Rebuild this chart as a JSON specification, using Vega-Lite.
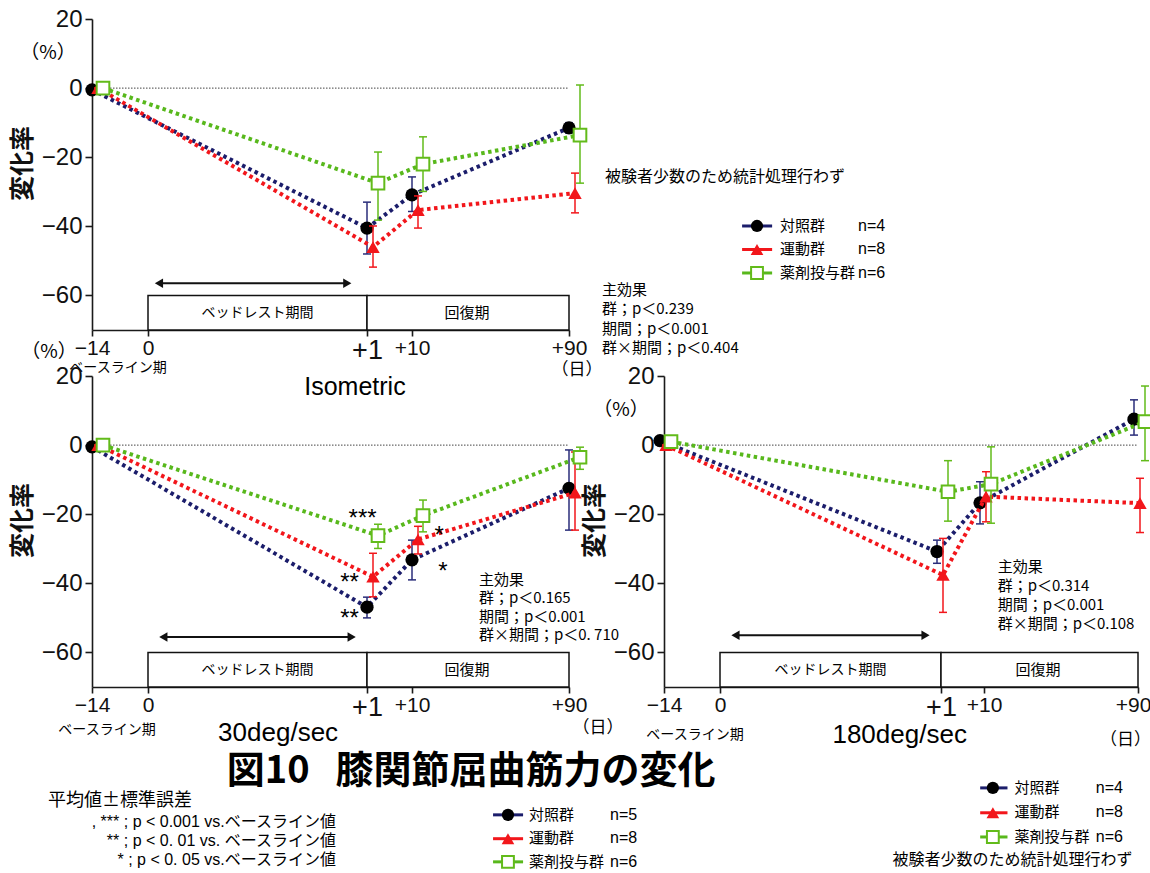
{
  "$schema": "https://vega.github.io/schema/vega-lite/v6.json",
  "background": "white",
  "padding": {"left": 10, "top": 7, "right": 0, "bottom": 0},
  "columns": 2,
  "bounds": "flush",
  "spacing": {"row": 46, "column": 95},
  "config": {
    "view": {"stroke": null},
    "font": "Liberation Sans",
    "axis": {"grid": false, "domainColor": "#1a1a1a", "domainWidth": 1.6, "tickColor": "#1a1a1a", "tickWidth": 1.6, "labelColor": "#111111", "labelFont": "Liberation Sans", "titleColor": "#111111"}
  },
  "datasets": {
    "strength": [
      {"panel": "iso", "group": "対照群", "day": -14, "mean": -0.5, "lo": -0.5, "hi": -0.5},
      {"panel": "iso", "group": "対照群", "day": 1, "mean": -40.5, "lo": -48.0, "hi": -33.0},
      {"panel": "iso", "group": "対照群", "day": 10, "mean": -30.9, "lo": -35.7, "hi": -25.7},
      {"panel": "iso", "group": "対照群", "day": 90, "mean": -11.5, "lo": -13.0, "hi": -10.0},
      {"panel": "iso", "group": "運動群", "day": -14, "mean": 0, "lo": 0, "hi": 0},
      {"panel": "iso", "group": "運動群", "day": 1, "mean": -46.0, "lo": -51.8, "hi": -39.9},
      {"panel": "iso", "group": "運動群", "day": 10, "mean": -35.3, "lo": -40.5, "hi": -31.2},
      {"panel": "iso", "group": "運動群", "day": 90, "mean": -30.4, "lo": -36.1, "hi": -24.6},
      {"panel": "iso", "group": "薬剤投与群", "day": -14, "mean": 0, "lo": 0, "hi": 0},
      {"panel": "iso", "group": "薬剤投与群", "day": 1, "mean": -27.5, "lo": -38.2, "hi": -18.5},
      {"panel": "iso", "group": "薬剤投与群", "day": 10, "mean": -22.0, "lo": -29.9, "hi": -14.1},
      {"panel": "iso", "group": "薬剤投与群", "day": 90, "mean": -13.6, "lo": -27.5, "hi": 0.9},
      {"panel": "30", "group": "対照群", "day": -14, "mean": -0.5, "lo": -0.5, "hi": -0.5},
      {"panel": "30", "group": "対照群", "day": 1, "mean": -46.9, "lo": -50.0, "hi": -44.0},
      {"panel": "30", "group": "対照群", "day": 10, "mean": -33.2, "lo": -39.0, "hi": -27.5},
      {"panel": "30", "group": "対照群", "day": 90, "mean": -12.5, "lo": -24.6, "hi": -1.4},
      {"panel": "30", "group": "運動群", "day": -14, "mean": 0, "lo": 0, "hi": 0},
      {"panel": "30", "group": "運動群", "day": 1, "mean": -38.1, "lo": -43.9, "hi": -31.3},
      {"panel": "30", "group": "運動群", "day": 10, "mean": -27.3, "lo": -31.5, "hi": -23.5},
      {"panel": "30", "group": "運動群", "day": 90, "mean": -13.8, "lo": -24.6, "hi": -2.0},
      {"panel": "30", "group": "薬剤投与群", "day": -14, "mean": 0, "lo": 0, "hi": 0},
      {"panel": "30", "group": "薬剤投与群", "day": 1, "mean": -26.2, "lo": -29.9, "hi": -22.9},
      {"panel": "30", "group": "薬剤投与群", "day": 10, "mean": -20.4, "lo": -25.1, "hi": -15.9},
      {"panel": "30", "group": "薬剤投与群", "day": 90, "mean": -3.5, "lo": -7.0, "hi": -0.6},
      {"panel": "180", "group": "対照群", "day": -14, "mean": 1.3, "lo": 1.3, "hi": 1.3},
      {"panel": "180", "group": "対照群", "day": 1, "mean": -30.8, "lo": -34.2, "hi": -27.5},
      {"panel": "180", "group": "対照群", "day": 10, "mean": -16.7, "lo": -22.8, "hi": -10.6},
      {"panel": "180", "group": "対照群", "day": 90, "mean": 7.5, "lo": 2.9, "hi": 13.1},
      {"panel": "180", "group": "運動群", "day": -14, "mean": 0, "lo": 0, "hi": 0},
      {"panel": "180", "group": "運動群", "day": 1, "mean": -37.6, "lo": -48.4, "hi": -27.0},
      {"panel": "180", "group": "運動群", "day": 10, "mean": -14.9, "lo": -22.2, "hi": -7.7},
      {"panel": "180", "group": "運動群", "day": 90, "mean": -16.8, "lo": -25.3, "hi": -9.6},
      {"panel": "180", "group": "薬剤投与群", "day": -14, "mean": 1.0, "lo": 1.0, "hi": 1.0},
      {"panel": "180", "group": "薬剤投与群", "day": 1, "mean": -13.5, "lo": -22.0, "hi": -4.5},
      {"panel": "180", "group": "薬剤投与群", "day": 10, "mean": -11.3, "lo": -22.6, "hi": -0.5},
      {"panel": "180", "group": "薬剤投与群", "day": 90, "mean": 6.8, "lo": -4.5, "hi": 17.1}
    ],
    "periods": [
      {"period": "ベッドレスト期間", "start": 0, "end": 1},
      {"period": "回復期", "start": 1, "end": 90}
    ]
  },
  "concat": [
    {
      "width": 477,
      "height": 311,
      "data": {"values": [{}]},
      "layer": [
        {"mark": {"type": "rule", "color": "#444444", "strokeWidth": 1, "strokeDash": [1.5, 1.5]},
         "encoding": {
           "x": {"datum": -14, "type": "quantitative",
                 "scale": {"domain": [-14, 0, 1, 10, 90], "range": [0, 56, 275, 320, 477], "nice": false, "zero": false},
                 "axis": {"values": [-14, 0, 1, 10, 90], "labelExpr": "datum.value === 1 ? '+1' : (datum.value > 1 ? '+' + datum.label : datum.label)", "labelFontSize": {"condition": {"test": "datum.value === 1", "value": 27}, "value": 21}, "labelFlush": false, "labelOverlap": false, "labelPadding": 1, "tickSize": 6, "title": null}},
           "x2": {"datum": 90},
           "y": {"datum": 0, "type": "quantitative",
                 "scale": {"domain": [-70, 20], "nice": false, "zero": false},
                 "axis": {"values": [-60, -50, -40, -30, -20, -10, 0, 10, 20], "labelExpr": "datum.value % 20 === 0 ? datum.label : ''", "labelFontSize": 24, "labelPadding": 3, "tickSize": 7, "title": "変化率", "titleFont": "Noto Sans CJK JP", "titleFontSize": 25, "titleFontWeight": "bold", "titlePadding": 6, "titleY": 144}}
         }},
        {"data": {"name": "periods"},
         "mark": {"type": "rect", "fill": "#ffffff", "stroke": "#111111", "strokeWidth": 1.5},
         "encoding": {"x": {"field": "start", "type": "quantitative"}, "x2": {"field": "end"}, "y": {"datum": -60}, "y2": {"datum": -70}}},
        {"mark": {"type": "text", "text": "ベッドレスト期間", "font": "Noto Sans CJK JP", "fontSize": 14, "baseline": "middle"}, "encoding": {"x": {"datum": 0.5}, "y": {"datum": -65}}},
        {"mark": {"type": "text", "text": "回復期", "font": "Noto Sans CJK JP", "fontSize": 15, "baseline": "middle"}, "encoding": {"x": {"datum": 38}, "y": {"datum": -65}}},
        {"mark": {"type": "rule", "color": "#111111", "strokeWidth": 2}, "encoding": {"x": {"datum": 0.05}, "x2": {"datum": 0.91}, "y": {"datum": -56.5}}},
        {"mark": {"type": "point", "shape": "triangle-left", "filled": true, "color": "#111111", "size": 90, "opacity": 1}, "encoding": {"x": {"datum": 0.05}, "y": {"datum": -56.5}}},
        {"mark": {"type": "point", "shape": "triangle-right", "filled": true, "color": "#111111", "size": 90, "opacity": 1}, "encoding": {"x": {"datum": 0.91}, "y": {"datum": -56.5}}},
        {"data": {"name": "strength"},
         "transform": [{"filter": "datum.panel === 'iso' && datum.group === '対照群'"}],
         "layer": [
           {"mark": {"type": "line", "color": "#1b1d6b", "strokeWidth": 4, "strokeDash": [3.5, 3.5]}, "encoding": {"x": {"field": "day", "type": "quantitative"}, "y": {"field": "mean", "type": "quantitative"}}},
           {"mark": {"type": "rule", "color": "#2a2d7a", "strokeWidth": 1.5}, "encoding": {"x": {"field": "day", "type": "quantitative"}, "y": {"field": "lo", "type": "quantitative"}, "y2": {"field": "hi"}}},
           {"transform": [{"fold": ["lo", "hi"], "as": ["end", "v"]}], "mark": {"type": "tick", "orient": "horizontal", "color": "#2a2d7a", "thickness": 1.5, "size": 8, "opacity": 1}, "encoding": {"x": {"field": "day", "type": "quantitative"}, "y": {"field": "v", "type": "quantitative"}}},
           {"mark": {"type": "point", "shape": "circle", "size": 175, "filled": true, "color": "#000000", "opacity": 1}, "encoding": {"x": {"field": "day", "type": "quantitative"}, "y": {"field": "mean", "type": "quantitative"}}}
         ]},
        {"data": {"name": "strength"},
         "transform": [{"filter": "datum.panel === 'iso' && datum.group === '運動群'"}],
         "layer": [
           {"mark": {"type": "line", "color": "#f2161b", "strokeWidth": 4, "strokeDash": [3.5, 3.5], "xOffset": 6}, "encoding": {"x": {"field": "day", "type": "quantitative"}, "y": {"field": "mean", "type": "quantitative"}}},
           {"mark": {"type": "rule", "color": "#f2161b", "strokeWidth": 1.5, "xOffset": 6}, "encoding": {"x": {"field": "day", "type": "quantitative"}, "y": {"field": "lo", "type": "quantitative"}, "y2": {"field": "hi"}}},
           {"transform": [{"fold": ["lo", "hi"], "as": ["end", "v"]}], "mark": {"type": "tick", "orient": "horizontal", "color": "#f2161b", "thickness": 1.5, "size": 8, "opacity": 1, "xOffset": 6}, "encoding": {"x": {"field": "day", "type": "quantitative"}, "y": {"field": "v", "type": "quantitative"}}},
           {"mark": {"type": "point", "shape": "triangle-up", "size": 180, "filled": true, "color": "#f2161b", "opacity": 1, "xOffset": 6}, "encoding": {"x": {"field": "day", "type": "quantitative"}, "y": {"field": "mean", "type": "quantitative"}}}
         ]},
        {"data": {"name": "strength"},
         "transform": [{"filter": "datum.panel === 'iso' && datum.group === '薬剤投与群'"}],
         "layer": [
           {"mark": {"type": "line", "color": "#58b81c", "strokeWidth": 4, "strokeDash": [3.5, 3.5], "xOffset": 11}, "encoding": {"x": {"field": "day", "type": "quantitative"}, "y": {"field": "mean", "type": "quantitative"}}},
           {"mark": {"type": "rule", "color": "#62bb1a", "strokeWidth": 1.5, "xOffset": 11}, "encoding": {"x": {"field": "day", "type": "quantitative"}, "y": {"field": "lo", "type": "quantitative"}, "y2": {"field": "hi"}}},
           {"transform": [{"fold": ["lo", "hi"], "as": ["end", "v"]}], "mark": {"type": "tick", "orient": "horizontal", "color": "#62bb1a", "thickness": 1.5, "size": 8, "opacity": 1, "xOffset": 11}, "encoding": {"x": {"field": "day", "type": "quantitative"}, "y": {"field": "v", "type": "quantitative"}}},
           {"mark": {"type": "point", "shape": "square", "size": 160, "fill": "#ffffff", "stroke": "#62bb1a", "strokeWidth": 2, "opacity": 1, "xOffset": 11}, "encoding": {"x": {"field": "day", "type": "quantitative"}, "y": {"field": "mean", "type": "quantitative"}}}
         ]},
        {"mark": {"type": "rule", "color": "#1b1d6b", "strokeWidth": 3}, "encoding": {"x": {"datum": 178.2}, "x2": {"datum": 193.5}, "y": {"datum": -39.9}}},
        {"mark": {"type": "rule", "color": "#f2161b", "strokeWidth": 3}, "encoding": {"x": {"datum": 178.2}, "x2": {"datum": 193.5}, "y": {"datum": -46.7}}},
        {"mark": {"type": "rule", "color": "#58b81c", "strokeWidth": 3}, "encoding": {"x": {"datum": 178.2}, "x2": {"datum": 193.5}, "y": {"datum": -53.5}}},
        {"mark": {"type": "point", "shape": "circle", "size": 150, "filled": true, "color": "#000000", "opacity": 1}, "encoding": {"x": {"datum": 185.8}, "y": {"datum": -39.9}}},
        {"mark": {"type": "point", "shape": "triangle-up", "size": 160, "filled": true, "color": "#f2161b", "opacity": 1}, "encoding": {"x": {"datum": 185.8}, "y": {"datum": -46.7}}},
        {"mark": {"type": "point", "shape": "square", "size": 140, "fill": "#ffffff", "stroke": "#62bb1a", "strokeWidth": 2, "opacity": 1}, "encoding": {"x": {"datum": 185.8}, "y": {"datum": -53.5}}},
        {"mark": {"type": "text", "text": ["対照群", "運動群", "薬剤投与群"], "lineHeight": 23.5, "font": "Noto Sans CJK JP", "fontSize": 15, "align": "left", "baseline": "middle"}, "encoding": {"x": {"datum": 197.5}, "y": {"datum": -39.9}}},
        {"mark": {"type": "text", "text": ["n=4", "n=8", "n=6"], "lineHeight": 23.5, "font": "Liberation Sans", "fontSize": 16, "align": "left", "baseline": "middle"}, "encoding": {"x": {"datum": 237.3}, "y": {"datum": -39.9}}},
        {"mark": {"type": "text", "text": "被験者少数のため統計処理行わず", "font": "Noto Sans CJK JP", "fontSize": 16, "align": "left", "baseline": "middle"}, "encoding": {"x": {"datum": 108.3}, "y": {"datum": -25.7}}},
        {"mark": {"type": "text", "text": ["主効果", "群；p＜0.239", "期間；p＜0.001", "群×期間；p＜0.404"], "lineHeight": 19.3, "font": "Noto Sans CJK JP", "fontSize": 15, "align": "left", "baseline": "middle"}, "encoding": {"x": {"datum": 106.8}, "y": {"datum": -58.4}}},
        {"mark": {"type": "text", "text": "（%）", "font": "Noto Sans CJK JP", "fontSize": 19, "baseline": "middle"}, "encoding": {"x": {"datum": -25}, "y": {"datum": 10.2}}},
        {"mark": {"type": "text", "text": "ベースライン期", "font": "Noto Sans CJK JP", "fontSize": 14, "baseline": "middle"}, "encoding": {"x": {"datum": -7.5}, "y": {"datum": -80.9}}},
        {"mark": {"type": "text", "text": "（日）", "font": "Noto Sans CJK JP", "fontSize": 17, "baseline": "middle"}, "encoding": {"x": {"datum": 94.1}, "y": {"datum": -81.6}}},
        {"mark": {"type": "text", "text": "Isometric", "font": "Liberation Sans", "fontSize": 25, "baseline": "middle"}, "encoding": {"x": {"datum": 0.945}, "y": {"datum": -86.5}}}
      ]
    },
    {
      "width": 476,
      "height": 311,
      "data": {"values": []},
      "mark": "point"
    },
    {
      "width": 477,
      "height": 311,
      "data": {"values": [{}]},
      "layer": [
        {"mark": {"type": "rule", "color": "#444444", "strokeWidth": 1, "strokeDash": [1.5, 1.5]},
         "encoding": {
           "x": {"datum": -14, "type": "quantitative",
                 "scale": {"domain": [-14, 0, 1, 10, 90], "range": [0, 56, 275, 320, 477], "nice": false, "zero": false},
                 "axis": {"values": [-14, 0, 1, 10, 90], "labelExpr": "datum.value === 1 ? '+1' : (datum.value > 1 ? '+' + datum.label : datum.label)", "labelFontSize": {"condition": {"test": "datum.value === 1", "value": 27}, "value": 21}, "labelFlush": false, "labelOverlap": false, "labelPadding": 1, "tickSize": 6, "title": null}},
           "x2": {"datum": 90},
           "y": {"datum": 0, "type": "quantitative",
                 "scale": {"domain": [-70, 20], "nice": false, "zero": false},
                 "axis": {"values": [-60, -50, -40, -30, -20, -10, 0, 10, 20], "labelExpr": "datum.value % 20 === 0 ? datum.label : ''", "labelFontSize": 24, "labelPadding": 3, "tickSize": 7, "title": "変化率", "titleFont": "Noto Sans CJK JP", "titleFontSize": 25, "titleFontWeight": "bold", "titlePadding": 6, "titleY": 144}}
         }},
        {"data": {"name": "periods"},
         "mark": {"type": "rect", "fill": "#ffffff", "stroke": "#111111", "strokeWidth": 1.5},
         "encoding": {"x": {"field": "start", "type": "quantitative"}, "x2": {"field": "end"}, "y": {"datum": -60}, "y2": {"datum": -70}}},
        {"mark": {"type": "text", "text": "ベッドレスト期間", "font": "Noto Sans CJK JP", "fontSize": 14, "baseline": "middle"}, "encoding": {"x": {"datum": 0.5}, "y": {"datum": -65}}},
        {"mark": {"type": "text", "text": "回復期", "font": "Noto Sans CJK JP", "fontSize": 15, "baseline": "middle"}, "encoding": {"x": {"datum": 38}, "y": {"datum": -65}}},
        {"mark": {"type": "rule", "color": "#111111", "strokeWidth": 2}, "encoding": {"x": {"datum": 0.07}, "x2": {"datum": 0.93}, "y": {"datum": -55.5}}},
        {"mark": {"type": "point", "shape": "triangle-left", "filled": true, "color": "#111111", "size": 90, "opacity": 1}, "encoding": {"x": {"datum": 0.07}, "y": {"datum": -55.5}}},
        {"mark": {"type": "point", "shape": "triangle-right", "filled": true, "color": "#111111", "size": 90, "opacity": 1}, "encoding": {"x": {"datum": 0.93}, "y": {"datum": -55.5}}},
        {"data": {"name": "strength"},
         "transform": [{"filter": "datum.panel === '30' && datum.group === '対照群'"}],
         "layer": [
           {"mark": {"type": "line", "color": "#1b1d6b", "strokeWidth": 4, "strokeDash": [3.5, 3.5]}, "encoding": {"x": {"field": "day", "type": "quantitative"}, "y": {"field": "mean", "type": "quantitative"}}},
           {"mark": {"type": "rule", "color": "#2a2d7a", "strokeWidth": 1.5}, "encoding": {"x": {"field": "day", "type": "quantitative"}, "y": {"field": "lo", "type": "quantitative"}, "y2": {"field": "hi"}}},
           {"transform": [{"fold": ["lo", "hi"], "as": ["end", "v"]}], "mark": {"type": "tick", "orient": "horizontal", "color": "#2a2d7a", "thickness": 1.5, "size": 8, "opacity": 1}, "encoding": {"x": {"field": "day", "type": "quantitative"}, "y": {"field": "v", "type": "quantitative"}}},
           {"mark": {"type": "point", "shape": "circle", "size": 175, "filled": true, "color": "#000000", "opacity": 1}, "encoding": {"x": {"field": "day", "type": "quantitative"}, "y": {"field": "mean", "type": "quantitative"}}}
         ]},
        {"data": {"name": "strength"},
         "transform": [{"filter": "datum.panel === '30' && datum.group === '運動群'"}],
         "layer": [
           {"mark": {"type": "line", "color": "#f2161b", "strokeWidth": 4, "strokeDash": [3.5, 3.5], "xOffset": 6}, "encoding": {"x": {"field": "day", "type": "quantitative"}, "y": {"field": "mean", "type": "quantitative"}}},
           {"mark": {"type": "rule", "color": "#f2161b", "strokeWidth": 1.5, "xOffset": 6}, "encoding": {"x": {"field": "day", "type": "quantitative"}, "y": {"field": "lo", "type": "quantitative"}, "y2": {"field": "hi"}}},
           {"transform": [{"fold": ["lo", "hi"], "as": ["end", "v"]}], "mark": {"type": "tick", "orient": "horizontal", "color": "#f2161b", "thickness": 1.5, "size": 8, "opacity": 1, "xOffset": 6}, "encoding": {"x": {"field": "day", "type": "quantitative"}, "y": {"field": "v", "type": "quantitative"}}},
           {"mark": {"type": "point", "shape": "triangle-up", "size": 180, "filled": true, "color": "#f2161b", "opacity": 1, "xOffset": 6}, "encoding": {"x": {"field": "day", "type": "quantitative"}, "y": {"field": "mean", "type": "quantitative"}}}
         ]},
        {"data": {"name": "strength"},
         "transform": [{"filter": "datum.panel === '30' && datum.group === '薬剤投与群'"}],
         "layer": [
           {"mark": {"type": "line", "color": "#58b81c", "strokeWidth": 4, "strokeDash": [3.5, 3.5], "xOffset": 11}, "encoding": {"x": {"field": "day", "type": "quantitative"}, "y": {"field": "mean", "type": "quantitative"}}},
           {"mark": {"type": "rule", "color": "#62bb1a", "strokeWidth": 1.5, "xOffset": 11}, "encoding": {"x": {"field": "day", "type": "quantitative"}, "y": {"field": "lo", "type": "quantitative"}, "y2": {"field": "hi"}}},
           {"transform": [{"fold": ["lo", "hi"], "as": ["end", "v"]}], "mark": {"type": "tick", "orient": "horizontal", "color": "#62bb1a", "thickness": 1.5, "size": 8, "opacity": 1, "xOffset": 11}, "encoding": {"x": {"field": "day", "type": "quantitative"}, "y": {"field": "v", "type": "quantitative"}}},
           {"mark": {"type": "point", "shape": "square", "size": 160, "fill": "#ffffff", "stroke": "#62bb1a", "strokeWidth": 2, "opacity": 1, "xOffset": 11}, "encoding": {"x": {"field": "day", "type": "quantitative"}, "y": {"field": "mean", "type": "quantitative"}}}
         ]},
        {"mark": {"type": "text", "text": "***", "font": "Liberation Sans", "fontSize": 24, "baseline": "alphabetic"}, "encoding": {"x": {"datum": 0.98}, "y": {"datum": -23.4}}},
        {"mark": {"type": "text", "text": "**", "font": "Liberation Sans", "fontSize": 24, "baseline": "alphabetic"}, "encoding": {"x": {"datum": 0.92}, "y": {"datum": -41.9}}},
        {"mark": {"type": "text", "text": "**", "font": "Liberation Sans", "fontSize": 24, "baseline": "alphabetic"}, "encoding": {"x": {"datum": 0.92}, "y": {"datum": -52.3}}},
        {"mark": {"type": "text", "text": "*", "font": "Liberation Sans", "fontSize": 24, "baseline": "alphabetic"}, "encoding": {"x": {"datum": 23.8}, "y": {"datum": -28.3}}},
        {"mark": {"type": "text", "text": "*", "font": "Liberation Sans", "fontSize": 24, "baseline": "alphabetic"}, "encoding": {"x": {"datum": 25.8}, "y": {"datum": -38.7}}},
        {"mark": {"type": "text", "text": ["主効果", "群；p＜0.165", "期間；p＜0.001", "群×期間；p＜0. 710"], "lineHeight": 18.5, "font": "Noto Sans CJK JP", "fontSize": 15, "align": "left", "baseline": "middle"}, "encoding": {"x": {"datum": 44.1}, "y": {"datum": -39.0}}},
        {"mark": {"type": "text", "text": "（%）", "font": "Noto Sans CJK JP", "fontSize": 19, "baseline": "middle"}, "encoding": {"x": {"datum": -24.75}, "y": {"datum": 26.9}}},
        {"mark": {"type": "text", "text": "ベースライン期", "font": "Noto Sans CJK JP", "fontSize": 14, "baseline": "middle"}, "encoding": {"x": {"datum": -10.25}, "y": {"datum": -82.3}}},
        {"mark": {"type": "text", "text": "（日）", "font": "Noto Sans CJK JP", "fontSize": 17, "baseline": "middle"}, "encoding": {"x": {"datum": 104.8}, "y": {"datum": -81.9}}},
        {"mark": {"type": "text", "text": "30deg/sec", "font": "Liberation Sans", "fontSize": 26, "baseline": "middle"}, "encoding": {"x": {"datum": 0.594}, "y": {"datum": -83.3}}},
        {"mark": {"type": "text", "text": "図10\u00a0\u00a0\u00a0膝関節屈曲筋力の変化", "font": "Noto Sans CJK JP", "fontSize": 38, "fontWeight": "bold", "baseline": "middle"}, "encoding": {"x": {"datum": 40.1}, "y": {"datum": -94.6}}},
        {"mark": {"type": "text", "text": "平均値±標準誤差", "font": "Noto Sans CJK JP", "fontSize": 18, "align": "left", "baseline": "middle"}, "encoding": {"x": {"datum": -25}, "y": {"datum": -103.0}}},
        {"mark": {"type": "text", "text": [", *** ; p < 0.001 vs.ベースライン値", "** ; p < 0. 01 vs. ベースライン値", "* ; p < 0. 05 vs.ベースライン値"], "lineHeight": 19, "font": "Liberation Sans, Noto Sans CJK JP", "fontSize": 16, "align": "right", "baseline": "middle"}, "encoding": {"x": {"datum": 0.858}, "y": {"datum": -109.1}}},
        {"mark": {"type": "rule", "color": "#1b1d6b", "strokeWidth": 3}, "encoding": {"x": {"datum": 51.3}, "x2": {"datum": 66.6}, "y": {"datum": -107.0}}},
        {"mark": {"type": "rule", "color": "#f2161b", "strokeWidth": 3}, "encoding": {"x": {"datum": 51.3}, "x2": {"datum": 66.6}, "y": {"datum": -113.9}}},
        {"mark": {"type": "rule", "color": "#58b81c", "strokeWidth": 3}, "encoding": {"x": {"datum": 51.3}, "x2": {"datum": 66.6}, "y": {"datum": -120.6}}},
        {"mark": {"type": "point", "shape": "circle", "size": 150, "filled": true, "color": "#000000", "opacity": 1}, "encoding": {"x": {"datum": 58.9}, "y": {"datum": -107.0}}},
        {"mark": {"type": "point", "shape": "triangle-up", "size": 160, "filled": true, "color": "#f2161b", "opacity": 1}, "encoding": {"x": {"datum": 58.9}, "y": {"datum": -113.9}}},
        {"mark": {"type": "point", "shape": "square", "size": 140, "fill": "#ffffff", "stroke": "#62bb1a", "strokeWidth": 2, "opacity": 1}, "encoding": {"x": {"datum": 58.9}, "y": {"datum": -120.6}}},
        {"mark": {"type": "text", "text": ["対照群", "運動群", "薬剤投与群"], "lineHeight": 23.5, "font": "Noto Sans CJK JP", "fontSize": 15, "align": "left", "baseline": "middle"}, "encoding": {"x": {"datum": 69.6}, "y": {"datum": -107.0}}},
        {"mark": {"type": "text", "text": ["n=5", "n=8", "n=6"], "lineHeight": 23.5, "font": "Liberation Sans", "fontSize": 16, "align": "left", "baseline": "middle"}, "encoding": {"x": {"datum": 110.9}, "y": {"datum": -107.0}}}
      ]
    },
    {
      "width": 476,
      "height": 311,
      "data": {"values": [{}]},
      "layer": [
        {"mark": {"type": "rule", "color": "#444444", "strokeWidth": 1, "strokeDash": [1.5, 1.5]},
         "encoding": {
           "x": {"datum": -14, "type": "quantitative",
                 "scale": {"domain": [-14, 0, 1, 10, 90], "range": [0, 56, 277, 320, 474], "nice": false, "zero": false},
                 "axis": {"values": [-14, 0, 1, 10, 90], "labelExpr": "datum.value === 1 ? '+1' : (datum.value > 1 ? '+' + datum.label : datum.label)", "labelFontSize": {"condition": {"test": "datum.value === 1", "value": 27}, "value": 21}, "labelOffset": {"condition": {"test": "datum.value === 90", "value": -5}, "value": 0}, "labelFlush": false, "labelOverlap": false, "labelPadding": 1, "tickSize": 6, "title": null}},
           "x2": {"datum": 90},
           "y": {"datum": 0, "type": "quantitative",
                 "scale": {"domain": [-70, 20], "nice": false, "zero": false},
                 "axis": {"values": [-60, -50, -40, -30, -20, -10, 0, 10, 20], "labelExpr": "datum.value % 20 === 0 ? datum.label : ''", "labelFontSize": 24, "labelPadding": 3, "tickSize": 7, "title": "変化率", "titleFont": "Noto Sans CJK JP", "titleFontSize": 25, "titleFontWeight": "bold", "titlePadding": 6, "titleY": 144}}
         }},
        {"data": {"name": "periods"},
         "mark": {"type": "rect", "fill": "#ffffff", "stroke": "#111111", "strokeWidth": 1.5},
         "encoding": {"x": {"field": "start", "type": "quantitative"}, "x2": {"field": "end"}, "y": {"datum": -60}, "y2": {"datum": -70}}},
        {"mark": {"type": "text", "text": "ベッドレスト期間", "font": "Noto Sans CJK JP", "fontSize": 14, "baseline": "middle"}, "encoding": {"x": {"datum": 0.5}, "y": {"datum": -65}}},
        {"mark": {"type": "text", "text": "回復期", "font": "Noto Sans CJK JP", "fontSize": 15, "baseline": "middle"}, "encoding": {"x": {"datum": 38}, "y": {"datum": -65}}},
        {"mark": {"type": "rule", "color": "#111111", "strokeWidth": 2}, "encoding": {"x": {"datum": 0.07}, "x2": {"datum": 0.93}, "y": {"datum": -55.0}}},
        {"mark": {"type": "point", "shape": "triangle-left", "filled": true, "color": "#111111", "size": 90, "opacity": 1}, "encoding": {"x": {"datum": 0.07}, "y": {"datum": -55.0}}},
        {"mark": {"type": "point", "shape": "triangle-right", "filled": true, "color": "#111111", "size": 90, "opacity": 1}, "encoding": {"x": {"datum": 0.93}, "y": {"datum": -55.0}}},
        {"data": {"name": "strength"},
         "transform": [{"filter": "datum.panel === '180' && datum.group === '対照群'"}],
         "layer": [
           {"mark": {"type": "line", "color": "#1b1d6b", "strokeWidth": 4, "strokeDash": [3.5, 3.5], "xOffset": -4}, "encoding": {"x": {"field": "day", "type": "quantitative"}, "y": {"field": "mean", "type": "quantitative"}}},
           {"mark": {"type": "rule", "color": "#2a2d7a", "strokeWidth": 1.5, "xOffset": -4}, "encoding": {"x": {"field": "day", "type": "quantitative"}, "y": {"field": "lo", "type": "quantitative"}, "y2": {"field": "hi"}}},
           {"transform": [{"fold": ["lo", "hi"], "as": ["end", "v"]}], "mark": {"type": "tick", "orient": "horizontal", "color": "#2a2d7a", "thickness": 1.5, "size": 8, "opacity": 1, "xOffset": -4}, "encoding": {"x": {"field": "day", "type": "quantitative"}, "y": {"field": "v", "type": "quantitative"}}},
           {"mark": {"type": "point", "shape": "circle", "size": 175, "filled": true, "color": "#000000", "opacity": 1, "xOffset": -4}, "encoding": {"x": {"field": "day", "type": "quantitative"}, "y": {"field": "mean", "type": "quantitative"}}}
         ]},
        {"data": {"name": "strength"},
         "transform": [{"filter": "datum.panel === '180' && datum.group === '運動群'"}],
         "layer": [
           {"mark": {"type": "line", "color": "#f2161b", "strokeWidth": 4, "strokeDash": [3.5, 3.5], "xOffset": 2}, "encoding": {"x": {"field": "day", "type": "quantitative"}, "y": {"field": "mean", "type": "quantitative"}}},
           {"mark": {"type": "rule", "color": "#f2161b", "strokeWidth": 1.5, "xOffset": 2}, "encoding": {"x": {"field": "day", "type": "quantitative"}, "y": {"field": "lo", "type": "quantitative"}, "y2": {"field": "hi"}}},
           {"transform": [{"fold": ["lo", "hi"], "as": ["end", "v"]}], "mark": {"type": "tick", "orient": "horizontal", "color": "#f2161b", "thickness": 1.5, "size": 8, "opacity": 1, "xOffset": 2}, "encoding": {"x": {"field": "day", "type": "quantitative"}, "y": {"field": "v", "type": "quantitative"}}},
           {"mark": {"type": "point", "shape": "triangle-up", "size": 180, "filled": true, "color": "#f2161b", "opacity": 1, "xOffset": 2}, "encoding": {"x": {"field": "day", "type": "quantitative"}, "y": {"field": "mean", "type": "quantitative"}}}
         ]},
        {"data": {"name": "strength"},
         "transform": [{"filter": "datum.panel === '180' && datum.group === '薬剤投与群'"}],
         "layer": [
           {"mark": {"type": "line", "color": "#58b81c", "strokeWidth": 4, "strokeDash": [3.5, 3.5], "xOffset": 7}, "encoding": {"x": {"field": "day", "type": "quantitative"}, "y": {"field": "mean", "type": "quantitative"}}},
           {"mark": {"type": "rule", "color": "#62bb1a", "strokeWidth": 1.5, "xOffset": 7}, "encoding": {"x": {"field": "day", "type": "quantitative"}, "y": {"field": "lo", "type": "quantitative"}, "y2": {"field": "hi"}}},
           {"transform": [{"fold": ["lo", "hi"], "as": ["end", "v"]}], "mark": {"type": "tick", "orient": "horizontal", "color": "#62bb1a", "thickness": 1.5, "size": 8, "opacity": 1, "xOffset": 7}, "encoding": {"x": {"field": "day", "type": "quantitative"}, "y": {"field": "v", "type": "quantitative"}}},
           {"mark": {"type": "point", "shape": "square", "size": 160, "fill": "#ffffff", "stroke": "#62bb1a", "strokeWidth": 2, "opacity": 1, "xOffset": 7}, "encoding": {"x": {"field": "day", "type": "quantitative"}, "y": {"field": "mean", "type": "quantitative"}}}
         ]},
        {"mark": {"type": "text", "text": ["主効果", "群；p＜0.314", "期間；p＜0.001", "群×期間；p＜0.108"], "lineHeight": 19, "font": "Noto Sans CJK JP", "fontSize": 15, "align": "left", "baseline": "middle"}, "encoding": {"x": {"datum": 17.1}, "y": {"datum": -35.3}}},
        {"mark": {"type": "text", "text": "（%）", "font": "Noto Sans CJK JP", "fontSize": 19, "baseline": "middle"}, "encoding": {"x": {"datum": -24.75}, "y": {"datum": 10.2}}},
        {"mark": {"type": "text", "text": "ベースライン期", "font": "Noto Sans CJK JP", "fontSize": 14, "baseline": "middle"}, "encoding": {"x": {"datum": -6.25}, "y": {"datum": -83.9}}},
        {"mark": {"type": "text", "text": "（日）", "font": "Noto Sans CJK JP", "fontSize": 17, "baseline": "middle"}, "encoding": {"x": {"datum": 83.5}, "y": {"datum": -85.3}}},
        {"mark": {"type": "text", "text": "180deg/sec", "font": "Liberation Sans", "fontSize": 26, "baseline": "middle"}, "encoding": {"x": {"datum": 0.813}, "y": {"datum": -83.9}}},
        {"mark": {"type": "text", "text": "被験者少数のため統計処理行わず", "font": "Noto Sans CJK JP", "fontSize": 16, "align": "left", "baseline": "middle"}, "encoding": {"x": {"datum": 0.78}, "y": {"datum": -120.1}}},
        {"mark": {"type": "rule", "color": "#1b1d6b", "strokeWidth": 3}, "encoding": {"x": {"datum": 9.2}, "x2": {"datum": 22.2}, "y": {"datum": -99.2}}},
        {"mark": {"type": "rule", "color": "#f2161b", "strokeWidth": 3}, "encoding": {"x": {"datum": 9.2}, "x2": {"datum": 22.2}, "y": {"datum": -106.4}}},
        {"mark": {"type": "rule", "color": "#58b81c", "strokeWidth": 3}, "encoding": {"x": {"datum": 9.2}, "x2": {"datum": 22.2}, "y": {"datum": -113.4}}},
        {"mark": {"type": "point", "shape": "circle", "size": 150, "filled": true, "color": "#000000", "opacity": 1}, "encoding": {"x": {"datum": 14.6}, "y": {"datum": -99.2}}},
        {"mark": {"type": "point", "shape": "triangle-up", "size": 160, "filled": true, "color": "#f2161b", "opacity": 1}, "encoding": {"x": {"datum": 14.6}, "y": {"datum": -106.4}}},
        {"mark": {"type": "point", "shape": "square", "size": 140, "fill": "#ffffff", "stroke": "#62bb1a", "strokeWidth": 2, "opacity": 1}, "encoding": {"x": {"datum": 14.6}, "y": {"datum": -113.4}}},
        {"mark": {"type": "text", "text": ["対照群", "運動群", "薬剤投与群"], "lineHeight": 24.5, "font": "Noto Sans CJK JP", "fontSize": 15, "align": "left", "baseline": "middle"}, "encoding": {"x": {"datum": 25.8}, "y": {"datum": -99.2}}},
        {"mark": {"type": "text", "text": ["n=4", "n=8", "n=6"], "lineHeight": 24.5, "font": "Liberation Sans", "fontSize": 16, "align": "left", "baseline": "middle"}, "encoding": {"x": {"datum": 68.1}, "y": {"datum": -99.2}}}
      ]
    }
  ]
}
